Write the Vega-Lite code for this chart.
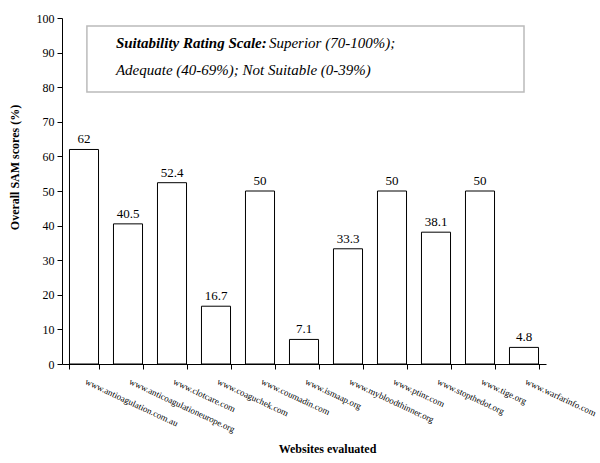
{
  "$schema": "https://vega.github.io/schema/vega-lite/v6.json",
  "autosize": {"type": "none"},
  "width": 484,
  "height": 346,
  "padding": {"left": 62, "top": 18, "right": 54, "bottom": 99},
  "background": "white",
  "config": {
    "view": {"stroke": null},
    "font": "'Liberation Serif', 'Times New Roman', serif",
    "axis": {"labelFont": "'Liberation Serif', 'Times New Roman', serif", "titleFont": "'Liberation Serif', 'Times New Roman', serif", "labelColor": "black", "titleColor": "black", "domainColor": "black", "tickColor": "black", "grid": false, "labelOverlap": false}
  },
  "resolve": {"axis": {"x": "independent", "y": "independent"}},
  "datasets": {
    "sites": [
      {"site": "www.antioagulation.com.au", "score": 62},
      {"site": "www.anticoagulationeurope.org", "score": 40.5},
      {"site": "www.clotcare.com", "score": 52.4},
      {"site": "www.coaguchek.com", "score": 16.7},
      {"site": "www.coumadin.com", "score": 50},
      {"site": "www.ismaap.org", "score": 7.1},
      {"site": "www.mybloodthinner.org", "score": 33.3},
      {"site": "www.ptinr.com", "score": 50},
      {"site": "www.stopthedot.org", "score": 38.1},
      {"site": "www.tige.org", "score": 50},
      {"site": "www.warfarinfo.com", "score": 4.8}
    ],
    "box": [
      {"left": "www.antioagulation.com.au", "right": "www.warfarinfo.com", "top": 97.7, "bottom": 78.6}
    ],
    "notes": [
      {"site": "www.antioagulation.com.au", "y": 91.3, "part": "bold", "text": "Suitability Rating Scale:"},
      {"site": "www.antioagulation.com.au", "y": 91.3, "part": "rest", "text": "Superior (70-100%);"},
      {"site": "www.antioagulation.com.au", "y": 83.5, "part": "line2", "text": "Adequate (40-69%); Not Suitable (0-39%)"}
    ]
  },
  "layer": [
    {
      "data": {"name": "sites"},
      "mark": {"type": "bar", "fill": "white", "stroke": "black", "strokeWidth": 1},
      "encoding": {
        "x": {
          "field": "site", "type": "nominal", "sort": null,
          "scale": {
            "domain": ["www.antioagulation.com.au", "www.anticoagulationeurope.org", "www.clotcare.com", "www.coaguchek.com", "www.coumadin.com", "www.ismaap.org", "www.mybloodthinner.org", "www.ptinr.com", "www.stopthedot.org", "www.tige.org", "www.warfarinfo.com"],
            "paddingInner": 0.34, "paddingOuter": 0.17
          },
          "axis": {
            "title": "Websites evaluated", "titleFontSize": 12, "titleFontWeight": "bold",
            "titleX": 265, "titleY": 79, "titleBaseline": "top",
            "labelAngle": 25, "labelAlign": "left", "labelBaseline": "top", "labelFontSize": 9,
            "labelPadding": 8, "labelOffset": 3,
            "tickBand": "extent", "tickSize": 5, "labelLimit": 300
          }
        },
        "y": {
          "field": "score", "type": "quantitative",
          "scale": {"domain": [0, 100], "nice": false},
          "axis": {
            "title": "Overall SAM scores (%)", "titleFontSize": 12, "titleFontWeight": "bold",
            "titleX": -41, "titleY": 149, "titleBaseline": "bottom",
            "values": [0,10,20,30,40,50,60,70,80,90,100],
            "labelFontSize": 12, "tickSize": 5, "labelPadding": 3
          }
        }
      }
    },
    {
      "data": {"name": "sites"},
      "mark": {"type": "text", "baseline": "alphabetic", "dy": -6, "fontSize": 13, "color": "black"},
      "encoding": {
        "x": {"field": "site", "type": "nominal", "sort": null, "axis": null},
        "y": {"field": "score", "type": "quantitative", "axis": null},
        "text": {"field": "score", "type": "quantitative"}
      }
    },
    {
      "data": {"name": "box"},
      "mark": {"type": "rect", "fill": "white", "stroke": "#bbbbbb", "strokeWidth": 1.5},
      "encoding": {
        "x": {"field": "left", "type": "nominal", "bandPosition": 0.6, "axis": null},
        "x2": {"field": "right"},
        "y": {"field": "top", "type": "quantitative", "axis": null},
        "y2": {"field": "bottom"}
      }
    },
    {
      "data": {"name": "notes"},
      "transform": [{"filter": "datum.part === 'bold'"}],
      "mark": {"type": "text", "align": "left", "baseline": "alphabetic", "fontSize": 15, "fontStyle": "italic", "fontWeight": "bold", "color": "black", "dx": 29},
      "encoding": {
        "x": {"field": "site", "type": "nominal", "bandPosition": 0.6, "axis": null},
        "y": {"field": "y", "type": "quantitative", "axis": null},
        "text": {"field": "text"}
      }
    },
    {
      "data": {"name": "notes"},
      "transform": [{"filter": "datum.part === 'rest'"}],
      "mark": {"type": "text", "align": "left", "baseline": "alphabetic", "fontSize": 15, "fontStyle": "italic", "color": "black", "dx": 182},
      "encoding": {
        "x": {"field": "site", "type": "nominal", "bandPosition": 0.6, "axis": null},
        "y": {"field": "y", "type": "quantitative", "axis": null},
        "text": {"field": "text"}
      }
    },
    {
      "data": {"name": "notes"},
      "transform": [{"filter": "datum.part === 'line2'"}],
      "mark": {"type": "text", "align": "left", "baseline": "alphabetic", "fontSize": 15, "fontStyle": "italic", "color": "black", "dx": 29},
      "encoding": {
        "x": {"field": "site", "type": "nominal", "bandPosition": 0.6, "axis": null},
        "y": {"field": "y", "type": "quantitative", "axis": null},
        "text": {"field": "text"}
      }
    }
  ]
}
